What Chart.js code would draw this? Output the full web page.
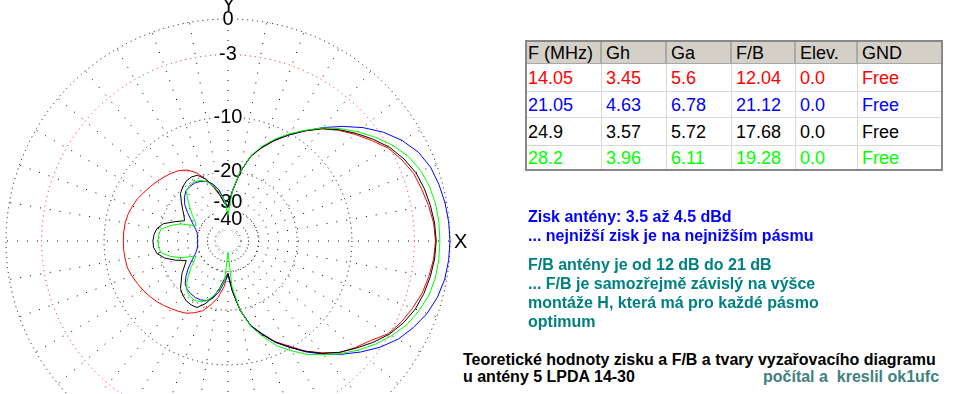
<!DOCTYPE html>
<html>
<head>
<meta charset="utf-8">
<script src="https://cdn.jsdelivr.net/npm/chart.js@4/dist/chart.umd.min.js"></script>
<style>
html,body{margin:0;padding:0;width:963px;height:394px;overflow:hidden;background:#fff;font-family:"Liberation Sans",Arial,sans-serif;}
#wrap{position:absolute;left:-4px;top:9px;width:464px;height:464px;}
#wrap canvas{display:block;}
.lbl{position:absolute;font-size:20px;line-height:20px;color:#000;z-index:2;}
.t{position:absolute;white-space:pre;font-weight:bold;font-size:16px;line-height:19px;z-index:2;}
#tbl{position:absolute;left:525px;top:40px;width:418px;height:131px;box-sizing:border-box;border:2px solid #888;background:#fff;z-index:2;}
.row{display:flex;}
.cell{box-sizing:border-box;font-size:18px;white-space:nowrap;overflow:hidden;padding-left:4px;border-right:1px solid #d8d8d8;border-bottom:1px solid #d8d8d8;}
.row .cell:first-child{padding-left:1px;}
.row .cell:last-child{border-right:none;}
.hdr .cell{background:#d4d0c8;border-right:2px solid #a8a8a8;border-bottom:1px solid #a8a8a8;}
.hdr .cell:last-child{border-right:none;}
</style>
</head>
<body>
<div id="wrap"><canvas id="c" width="464" height="464"></canvas></div>
<div class="lbl" style="left:222px;top:-6px;">Y</div>
<div class="lbl" style="left:454px;top:231px;">X</div>
<div id="tbl"></div>
<div class="t" style="left:528px;top:207px;color:#0000ff;">Zisk antény: 3.5 až 4.5 dBd
... nejnižší zisk je na nejnižším pásmu</div>
<div class="t" style="left:528px;top:255px;color:#008080;">F/B antény je od 12 dB do 21 dB
... F/B je samozřejmě závislý na výšce
montáže H, která má pro každé pásmo
optimum</div>
<div class="t" style="left:463px;top:351px;line-height:17px;color:#000;">Teoretické hodnoty zisku a F/B a tvary vyzařovacího diagramu
u antény 5 LPDA 14-30</div>
<div class="t" style="left:763px;top:368px;line-height:17px;color:#408080;">počítal a  kreslil ok1ufc</div>
<script>
// ---------- DATA ----------
// azimuth in degrees, counter-clockwise from +X (0 = X axis, 90 = Y axis)
const azimuths = [0,5,10,15,20,25,30,35,40,45,50,55,60,65,70,75,80,85,
  90,95,100,105,110,115,120,125,130,135,140,145,150,155,160,165,170,175,
  180,185,190,195,200,205,210,215,220,225,230,235,240,245,250,255,260,265,
  270,275,280,285,290,295,300,305,310,315,320,325,330,335,340,345,350,355];

// relative field strength (dB, 0 dB = strongest pattern)
const pattern1405 = [-1.16,-1.25,-1.48,-1.75,-2.0,-2.5,-3.1,-4.05,-5.0,-6.0,-7.15,-8.6,-10.2,-11.9,-13.8,-16.0,-19.8,-25.5,
  -31.5,-30.5,-27.0,-23.8,-20.8,-18.5,-17.1,-16.3,-15.8,-15.4,-15.0,-14.6,-14.2,-13.7,-13.4,-13.1,-12.95,-12.9,
  -12.9,-12.9,-12.95,-13.0,-13.3,-13.65,-14.0,-14.4,-14.8,-15.3,-15.8,-16.3,-16.8,-17.7,-18.8,-20.8,-23.2,-27.0,
  -33.0,-25.5,-19.5,-16.0,-14.0,-11.9,-10.4,-8.6,-7.2,-5.85,-5.0,-4.2,-3.1,-2.55,-2.1,-1.7,-1.45,-1.25];

const pattern2105 = [0,-0.04,-0.13,-0.28,-0.5,-0.95,-1.7,-2.7,-3.95,-5.4,-6.95,-8.6,-10.2,-11.8,-13.7,-15.9,-19.8,-25.6,
  -32.0,-29.0,-24.9,-22.7,-21.5,-20.9,-20.6,-20.7,-20.95,-22.0,-23.5,-25.8,-28.2,-30.2,-32.0,-33.2,-33.8,-34.1,
  -34.2,-34.1,-33.8,-33.2,-32.0,-30.3,-28.3,-26.0,-24.0,-22.3,-21.5,-21.2,-21.0,-21.1,-21.5,-22.6,-25.0,-29.0,
  -32.0,-25.5,-19.8,-16.0,-13.9,-11.8,-10.2,-8.5,-7.0,-5.6,-4.3,-3.1,-2.1,-1.4,-0.8,-0.4,-0.15,-0.04];

const pattern249 = [-1.1,-1.17,-1.33,-1.52,-1.8,-2.3,-2.95,-3.85,-4.85,-5.9,-7.1,-8.6,-10.1,-11.8,-13.7,-15.9,-19.7,-25.5,
  -32.0,-30.5,-26.5,-23.2,-20.8,-19.2,-18.9,-19.1,-19.7,-20.5,-22.2,-23.8,-25.3,-26.3,-23.5,-20.6,-19.3,-18.8,
  -18.6,-18.7,-19.3,-20.9,-23.6,-27.0,-25.5,-23.6,-22.2,-20.5,-19.7,-19.1,-18.9,-19.0,-20.6,-23.0,-26.3,-30.5,
  -33.0,-25.5,-19.7,-15.9,-13.8,-11.8,-10.2,-8.6,-7.1,-5.9,-4.9,-3.9,-3.0,-2.35,-1.85,-1.55,-1.33,-1.17];

const pattern282 = [-0.8,-0.81,-0.88,-1.05,-1.35,-1.85,-2.6,-3.55,-4.6,-5.75,-7.0,-8.5,-10.0,-11.6,-13.5,-15.8,-19.6,-25.5,
  -37.0,-29.0,-25.8,-23.2,-21.5,-20.6,-20.3,-20.4,-21.1,-23.5,-26.0,-28.1,-30.5,-31.5,-25.5,-22.6,-20.3,-19.9,
  -19.8,-19.9,-20.3,-22.6,-26.0,-31.5,-30.0,-27.5,-25.2,-23.0,-21.3,-20.5,-20.3,-20.6,-21.4,-23.2,-25.8,-29.5,
  -51.0,-27.0,-19.6,-15.8,-13.4,-11.2,-9.6,-8.1,-6.9,-5.7,-4.6,-3.6,-2.75,-2.0,-1.5,-1.1,-0.9,-0.82];

// polar grid: tick values (dB), their labels, and whether a ring is drawn there
const ringDb = [0, -3, -10, -20, -30, -40, -33.8, -48.7];
const ringLabels = ['0', '-3', '-10', '-20', '-30', '-40', '', ''];
const ringDrawn = [true, true, true, true, false, false, true, true];
const innerBlankDb = -51.5;

// table values
const tblHeader = ['F (MHz)', 'Gh', 'Ga', 'F/B', 'Elev.', 'GND'];
const freqMHz = ['14.05', '21.05', '24.9', '28.2'];
const gainGh = ['3.45', '4.63', '3.57', '3.96'];
const gainGa = ['5.6', '6.78', '5.72', '6.11'];
const frontBack = ['12.04', '21.12', '17.68', '19.28'];
const elevation = ['0.0', '0.0', '0.0', '0.0'];
const ground = ['Free', 'Free', 'Free', 'Free'];

// ---------- STYLE ----------
const seriesColors = ['#ff0000', '#0000ff', '#000000', '#00ff00'];
const colWidths = [75, 65, 65, 64, 62, 83];
const rowHeights = [22, 28, 26, 28, 23];

// ---------- TABLE ----------
(function () {
  const tbl = document.getElementById('tbl');
  const rows = [tblHeader];
  for (let i = 0; i < freqMHz.length; i++) {
    rows.push([freqMHz[i], gainGh[i], gainGa[i], frontBack[i], elevation[i], ground[i]]);
  }
  rows.forEach((r, ri) => {
    const row = document.createElement('div');
    row.className = 'row' + (ri === 0 ? ' hdr' : '');
    r.forEach((txt, ci) => {
      const c = document.createElement('div');
      c.className = 'cell';
      c.style.width = colWidths[ci] + 'px';
      c.style.height = rowHeights[ri] + 'px';
      c.style.lineHeight = (rowHeights[ri] + 1) + 'px';
      if (ri === rowHeights.length - 1) c.style.borderBottom = 'none';
      c.style.color = ri === 0 ? '#000' : seriesColors[ri - 1];
      c.textContent = txt;
      row.appendChild(c);
    });
    tbl.appendChild(row);
  });
})();

// ---------- ARRL log radial scale ----------
const ARRL_STEP = 0.89; // radius factor per 2 dB
class ArrlLogScale extends Chart.RadialLinearScale {
  static id = 'arrlLog';
  getDistanceFromCenterForValue(value) {
    if (value === null || value === undefined || isNaN(value)) return NaN;
    return this.drawingArea * Math.pow(ARRL_STEP, -value / 2);
  }
  getValueForDistanceFromCenter(distance) {
    return -2 * Math.log(distance / this.drawingArea) / Math.log(ARRL_STEP);
  }
}
Chart.register(ArrlLogScale);

// keeps the very centre of the polar grid blank
const centreBlank = {
  id: 'centreBlank',
  beforeDatasetsDraw(chart) {
    const s = chart.scales.r;
    const ctx = chart.ctx;
    ctx.save();
    ctx.fillStyle = '#ffffff';
    ctx.beginPath();
    ctx.arc(s.xCenter, s.yCenter, s.getDistanceFromCenterForValue(innerBlankDb), 0, Math.PI * 2);
    ctx.fill();
    ctx.restore();
  }
};

// radar index 0 is at the top (azimuth 90) and goes clockwise
const n = azimuths.length;
const topIdx = azimuths.indexOf(90);
const order = [];
for (let k = 0; k < n; k++) order.push((topIdx - k + n) % n);

const allSeries = [pattern1405, pattern2105, pattern249, pattern282];
const datasets = allSeries.map((arr, j) => ({
  label: freqMHz[j] + ' MHz',
  data: order.map(i => arr[i]),
  borderColor: seriesColors[j],
  backgroundColor: seriesColors[j],
  borderWidth: 1,
  pointRadius: 0,
  pointHoverRadius: 0,
  fill: false,
  tension: 0,
  order: allSeries.length - 1 - j
}));

new Chart(document.getElementById('c'), {
  type: 'radar',
  data: { labels: order.map(i => azimuths[i] + '°'), datasets },
  plugins: [centreBlank],
  options: {
    responsive: false,
    animation: false,
    devicePixelRatio: 1,
    layout: { padding: 0 },
    plugins: { legend: { display: false }, tooltip: { enabled: false } },
    scales: {
      r: {
        type: 'arrlLog',
        min: -60,
        max: 0,
        startAngle: 0,
        afterBuildTicks: (s) => { s.ticks = ringDb.map(v => ({ value: v })); },
        ticks: {
          display: true,
          showLabelBackdrop: true,
          backdropColor: '#ffffff',
          backdropPadding: 0,
          color: '#000000',
          font: { family: 'Liberation Sans', size: 20 },
          callback: (v) => { const i = ringDb.indexOf(v); return i >= 0 ? ringLabels[i] : ''; }
        },
        grid: {
          circular: true,
          color: (ctx) => {
            if (!ctx.tick) return '#000000';
            const i = ringDb.indexOf(ctx.tick.value);
            if (i >= 0 && !ringDrawn[i]) return '';
            return ctx.tick.value === -3 ? '#ff0000' : '#000000';
          },
          lineWidth: 1
        },
        border: { dash: [1, 4] },
        angleLines: {
          display: true,
          color: '#000000',
          lineWidth: (ctx) => (ctx.index % 2 === 0 ? 1 : 0),
          borderDash: [1, 9]
        },
        pointLabels: { display: false }
      }
    }
  }
});
</script>
</body>
</html>
